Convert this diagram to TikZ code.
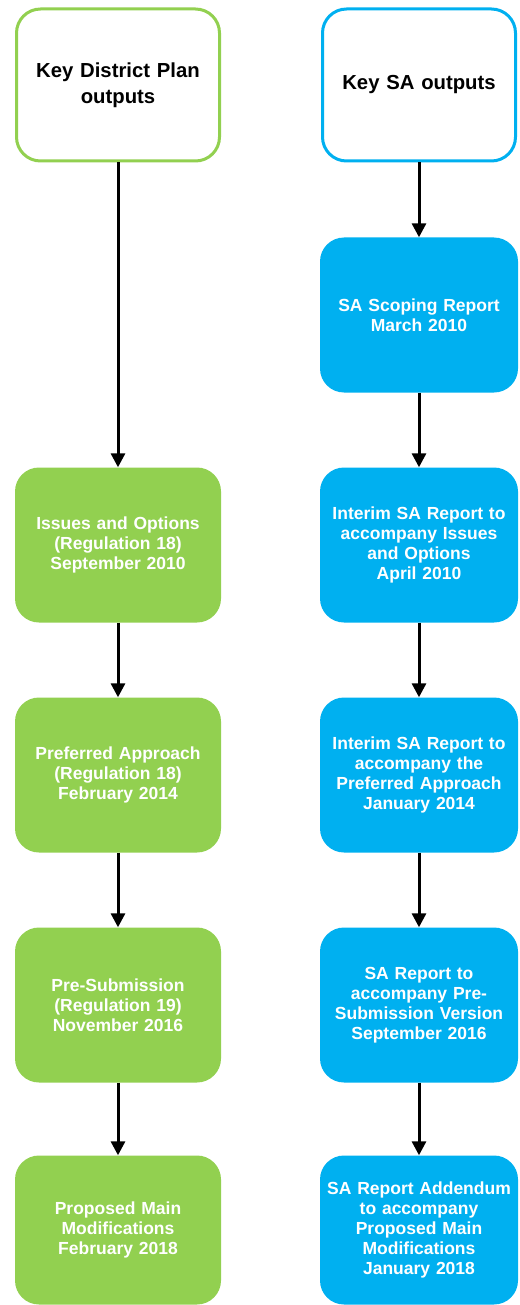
\documentclass[tikz,border=0pt]{standalone}
\usepackage{fontspec}
\setmainfont{Liberation Sans}
\usetikzlibrary{arrows.meta}
\definecolor{dpgreen}{RGB}{146,208,80}
\definecolor{sablue}{RGB}{0,176,240}
\tikzset{
  box/.style={rectangle, rounded corners=24pt, align=center, font=\bfseries\fontsize{17.5}{20}\selectfont, minimum height=155pt, inner sep=2pt},
  dpbox/.style={box, fill=dpgreen, text=white, minimum width=206pt, text width=200pt},
  sabox/.style={box, fill=sablue, text=white, minimum width=196pt, text width=194pt},
  lastbox/.style={minimum height=149pt},
  headbox/.style={box, fill=white, line width=3pt, text=black, font=\bfseries\fontsize{20.3}{26}\selectfont, minimum height=152pt},
  dphead/.style={headbox, draw=dpgreen, minimum width=203pt, text width=190pt},
  sahead/.style={headbox, draw=sablue, minimum width=193pt, text width=180pt},
  arr/.style={line width=3pt, -{Triangle[width=14pt,length=14pt]}}
}
\begin{document}
\begin{tikzpicture}[x=1pt, y=1pt]
        \useasboundingbox (0,0) rectangle (519,-1305);

        % Column headers
        \node[dphead] (dp0) at (118, -85) {Key District Plan\\outputs};
        \node[sahead] (sa0) at (419, -85) {Key SA outputs};

        % District Plan outputs
        \node[dpbox] (dp1) at (118, -545) {Issues and Options\\(Regulation 18)\\September 2010};
        \node[dpbox] (dp2) at (118, -775) {Preferred Approach\\(Regulation 18)\\February 2014};
        \node[dpbox] (dp3) at (118, -1005) {Pre-Submission\\(Regulation 19)\\November 2016};
        \node[dpbox, lastbox] (dp4) at (118, -1230) {Proposed Main\\Modifications\\February 2018};

        % SA outputs
        \node[sabox] (sa1) at (419, -315) {SA Scoping Report\\March 2010};
        \node[sabox] (sa2) at (419, -545) {Interim SA Report to\\accompany Issues\\and Options\\April 2010};
        \node[sabox] (sa3) at (419, -775) {Interim SA Report to\\accompany the\\Preferred Approach\\January 2014};
        \node[sabox] (sa4) at (419, -1005) {SA Report to\\accompany Pre-\\Submission Version\\September 2016};
        \node[sabox, lastbox] (sa5) at (419, -1230) {SA Report Addendum\\to accompany\\Proposed Main\\Modifications\\January 2018};

        % Draw arrows
        \draw[arr] (dp0) -- (dp1);
        \draw[arr] (dp1) -- (dp2);
        \draw[arr] (dp2) -- (dp3);
        \draw[arr] (dp3) -- (dp4);
        \draw[arr] (sa0) -- (sa1);
        \draw[arr] (sa1) -- (sa2);
        \draw[arr] (sa2) -- (sa3);
        \draw[arr] (sa3) -- (sa4);
        \draw[arr] (sa4) -- (sa5);
\end{tikzpicture}
\end{document}
